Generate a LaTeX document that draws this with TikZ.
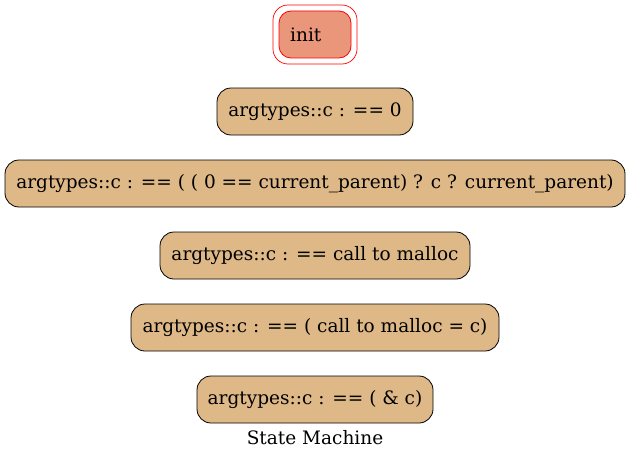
\documentclass[tikz,border=0pt]{standalone}
\usepackage{fontspec}
\setmainfont{DejaVu Serif}
\definecolor{stfill}{HTML}{DEB887}
\definecolor{initfill}{HTML}{EA967A}
\begin{document}
\begin{tikzpicture}[x=1pt,y=-1pt,
  state/.style={draw=black, fill=stfill, rounded corners=14pt, minimum height=47pt, inner sep=0pt, font=\fontsize{18.5}{22}\selectfont, line width=0.8pt},
  initstate/.style={draw=red, fill=initfill, rounded corners=12pt, minimum width=72pt, minimum height=47pt, inner sep=0pt, line width=0.8pt},
  initouter/.style={draw=red, rounded corners=15pt, minimum width=84pt, minimum height=59pt, inner sep=0pt, line width=0.7pt},
  lbl/.style={font=\fontsize{18.5}{22}\selectfont, inner sep=0pt}]
\useasboundingbox (0,0) rectangle (631,460);
\node[initouter] (initout) at (315,34.5) {};
\node[initstate] (init) at (315,34.5) {};
\node[lbl, anchor=west] (initlbl) at (290,34.5) {init};
\node[state, minimum width=196pt] (s1) at (315,111.5) {argtypes::c : == 0};
\node[state, minimum width=620pt] (s2) at (315,183.5) {argtypes::c : == ( ( 0 == current\_parent) ? c ? current\_parent)};
\node[state, minimum width=310pt] (s3) at (315,255.5) {argtypes::c : == call to malloc};
\node[state, minimum width=368pt] (s4) at (315,327.5) {argtypes::c : == ( call to malloc = c)};
\node[state, minimum width=236pt] (s5) at (315,399.5) {argtypes::c : == ( \& c)};
\node[lbl] (title) at (315,438) {State Machine};
\end{tikzpicture}
\end{document}
